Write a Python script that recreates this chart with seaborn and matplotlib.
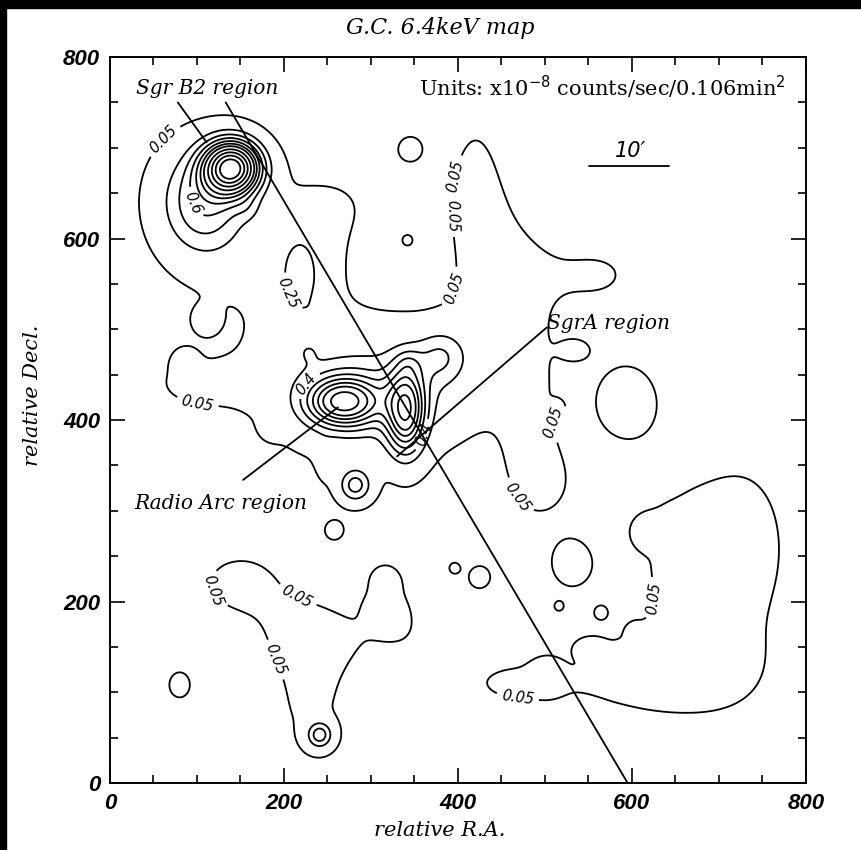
import numpy as np
import matplotlib
matplotlib.use("Agg")
import matplotlib.pyplot as plt
import seaborn as sns
import pandas as pd

# Emission components of the 6.4 keV map (relative R.A., relative Decl.)
# compact sources
blob_x = [140, 108, 268, 340, 343, 282, 159, 192, 241, 109, 86, 228, 186, 247,
          258, 316, 396, 314, 345, 342, 535, 459, 448, 514, 593, 530, 516, 564, 603,
          632, 552, 590, 503, 617, 659, 652, 425, 241, 80, 300, 380, 218]
blob_y = [678, 640, 420, 410, 463, 328, 632, 630, 516, 510, 466, 475, 392, 356,
          279, 224, 237, 193, 699, 598, 477, 475, 413, 414, 422, 241, 195, 188, 166,
          151, 149, 127, 119, 277, 235, 284, 227, 53, 108, 430, 470, 560]
blob_amp = [1.8, 0.55, 1.05, 1.0, 0.12, 0.45, 0.09, 0.09, 0.09, 0.08, 0.08, 0.08,
            0.08, 0.08, 0.08, 0.08, 0.07, 0.09, 0.09, 0.07, 0.08, 0.07, 0.07, 0.07,
            0.09, 0.09, 0.07, 0.07, 0.07, 0.07, 0.08, 0.08, 0.08, 0.08, 0.08, 0.08,
            0.08, 0.45, 0.08, 0.3, 0.3, 0.28]
blob_sx = [22, 34, 28, 15, 10, 13, 10, 10, 10, 12, 10, 9, 9, 7, 10, 12, 6, 12, 11,
           5, 13, 6, 6, 6, 28, 18, 5, 6, 6, 5, 12, 12, 11, 11, 11, 14, 12, 10, 12,
           60, 20, 16]
blob_sy = [20, 40, 18, 32, 10, 13, 10, 10, 10, 12, 10, 9, 9, 16, 10, 12, 6, 12, 11,
           5, 9, 6, 6, 6, 32, 20, 5, 6, 6, 4, 8, 12, 11, 11, 11, 10, 12, 10, 14,
           40, 20, 32]

# diffuse emission along the plane
haze_x = [160, 260, 420, 300, 100, 470, 560, 660, 740, 150, 230, 470,
          330, 230, 620, 500, 480, 230, 440, 700, 210]
haze_y = [560, 640, 640, 440, 440, 560, 560, 250, 260, 220, 90, 110,
          180, 160, 120, 330, 400, 560, 480, 120, 470]
haze_amp = [0.045, 0.045, 0.065, 0.06, 0.055, 0.05, 0.055, 0.06, 0.05,
            0.06, 0.06, 0.055, 0.05, 0.05, 0.05, 0.05, 0.05, 0.06, 0.05,
            0.05, 0.045]
haze_sx = [50, 60, 30, 110, 50, 35, 45, 60, 40, 55, 35, 80,
           40, 40, 50, 35, 25, 35, 40, 50, 30]
haze_sy = [50, 40, 90, 60, 25, 60, 30, 90, 80, 40, 55, 35,
           40, 30, 35, 40, 60, 50, 40, 40, 30]

levels = [0.05, 0.25, 0.4, 0.55, 0.7, 0.85, 1.0, 1.2, 1.4, 1.6, 1.8]

label_x = [55, 201, 377, 417, 446, 103, 222, 362, 500, 471, 92, 205, 643, 465, 203, 98]
label_y = [715, 538, 673, 626, 532, 431, 443, 383, 400, 317, 202, 185, 202, 47, 141, 640]

# Region pointer lines
sgrb2_short = pd.DataFrame({"x": [78, 111], "y": [750, 706]})
sgrb2_long = pd.DataFrame({"x": [133, 595], "y": [750, 0]})
sgra_line = pd.DataFrame({"x": [502, 330], "y": [502, 360]})
arc_line = pd.DataFrame({"x": [153, 262], "y": [334, 414]})

grid = np.linspace(0, 800, 401)
X, Y = np.meshgrid(grid, grid)
Z = np.zeros_like(X)
for x0, y0, a, sx, sy in zip(blob_x + haze_x, blob_y + haze_y, blob_amp + haze_amp,
                             blob_sx + haze_sx, blob_sy + haze_sy):
    Z += a * np.exp(-0.5 * (((X - x0) / sx) ** 2 + ((Y - y0) / sy) ** 2))

sns.set_theme(style="white")
plt.rcParams["font.family"] = ["DejaVu Sans"]
plt.rcParams["text.color"] = "black"

fig = plt.figure(figsize=(8.62, 8.50), dpi=100)
fig.patch.set_facecolor("white")
ax = fig.add_axes([0.1276, 0.0788, 0.8074, 0.8541])

cs = ax.contour(X, Y, Z, levels=levels, colors="black", linewidths=1.3)


def fmt(v):
    return f"{v:.2f}" if v in (0.05, 0.25) else f"{v:.1f}"


lbls = ax.clabel(cs, manual=list(zip(label_x, label_y)), inline=True, fmt=fmt,
                 fontsize=10.5, colors="black")
for t in lbls:
    t.set_fontstyle("italic")

for df in (sgrb2_short, sgrb2_long, sgra_line, arc_line):
    sns.lineplot(data=df, x="x", y="y", ax=ax, color="black", linewidth=1.3,
                 sort=False, estimator=None)

ax.set_xlim(0, 800)
ax.set_ylim(0, 800)
ax.set_xticks([0, 200, 400, 600, 800])
ax.set_yticks([0, 200, 400, 600, 800])
ax.set_xticks(np.arange(0, 801, 50), minor=True)
ax.set_yticks(np.arange(0, 801, 50), minor=True)
ax.tick_params(which="both", direction="in", top=True, right=True, bottom=True,
               left=True, color="black", width=1.2, labelcolor="black")
ax.tick_params(which="major", length=11)
ax.tick_params(which="minor", length=6)
for lab in ax.get_xticklabels() + ax.get_yticklabels():
    lab.set_family("Liberation Sans")
    lab.set_fontstyle("italic")
    lab.set_fontweight("bold")
    lab.set_fontsize(16)
ax.tick_params(axis="x", pad=7)
ax.tick_params(axis="y", pad=7)
for sp in ax.spines.values():
    sp.set_color("black")
    sp.set_linewidth(1.4)

serif = dict(family="DejaVu Serif", style="italic", color="black")
ax.set_xlabel("relative R.A.", fontsize=15, **serif)
ax.xaxis.set_label_coords((440 - 110) / 696, -38 / 726)
ax.set_ylabel("relative Decl.", fontsize=15, **serif)
ax.yaxis.set_label_coords(-68 / 696, (783 - 395) / 726)
fig.text(440 / 862, 1 - 28 / 850, "G.C. 6.4keV map", fontsize=16, ha="center",
         va="center", **serif)

ax.text(30, 759, "Sgr B2 region", fontsize=14.5, **serif)
ax.text(502, 500, "SgrA region", fontsize=14.5, **serif)
ax.text(28, 302, "Radio Arc region", fontsize=14.5, **serif)
ax.text(355, 757, r"Units: x10$^{-8}$ counts/sec/0.106min$^{2}$", fontsize=15,
        family="DejaVu Serif", color="black")
ax.text(598, 690, "10\u2032", fontsize=15, fontstyle="italic", ha="center",
        color="black")
ax.plot([551, 642], [680, 680], color="black", linewidth=1.3)

# dark frame strips along the top and left edges
fig.add_artist(plt.Rectangle((0, 1 - 8 / 850), 1, 8 / 850, transform=fig.transFigure,
                             color="black", zorder=10))
fig.add_artist(plt.Rectangle((0, 0), 6 / 862, 1, transform=fig.transFigure,
                             color="black", zorder=10))

fig.savefig("out.png", dpi=100)
